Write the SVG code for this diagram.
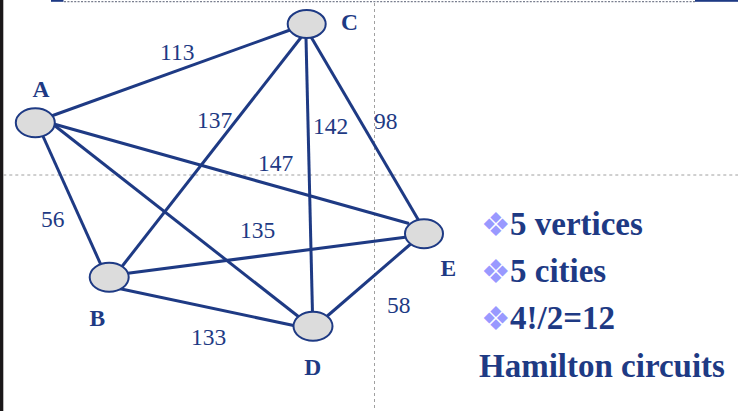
<svg xmlns="http://www.w3.org/2000/svg" width="738" height="411" viewBox="0 0 738 411">
<style>
.edge{stroke:#1E3A84;stroke-width:3;fill:none;stroke-linecap:butt}
.node{fill:#DCDCDC;stroke:#1E3A84;stroke-width:2}
.w{font-family:"Liberation Serif","Times New Roman",serif;font-size:23.5px;fill:#1E3A84}
.lbl{font-family:"Liberation Serif","Times New Roman",serif;font-size:23.5px;font-weight:bold;fill:#1E3A84}
.txt{font-family:"Liberation Serif","Times New Roman",serif;font-size:33px;font-weight:bold;fill:#1E3A84}
.bul{font-family:"DejaVu Sans",sans-serif;font-size:33px;fill:#9999FF}
.guide{stroke:#A0A0A0;stroke-width:1;stroke-dasharray:3,3;fill:none}
</style>
<rect x="0" y="0" width="738" height="411" fill="#FFFFFF"/>
<g id="frame">
<rect x="0" y="0" width="3.3" height="411" fill="#1B1819"/>
<rect x="51" y="0" width="12.5" height="1.8" fill="#1E3A84"/>
<rect x="695" y="0" width="43" height="1.8" fill="#1E3A84"/>
<line x1="64" y1="1.6" x2="695" y2="1.6" stroke="#7A7F8F" stroke-width="1.4" stroke-dasharray="2,1.4"/>
<line class="guide" x1="374.5" y1="3" x2="374.5" y2="411"/>
<line class="guide" x1="3.3" y1="175" x2="738" y2="175"/>
</g>
<g id="connectors">
<line class="edge" x1="50" y1="116.5" x2="290" y2="30"/>
<line class="edge" x1="52" y1="123.5" x2="409" y2="223.5"/>
<line class="edge" x1="52" y1="123.5" x2="299" y2="317"/>
<line class="edge" x1="42" y1="134" x2="101" y2="265"/>
<line class="edge" x1="120" y1="269" x2="301" y2="37.5"/>
<line class="edge" x1="306" y1="38" x2="312.5" y2="314"/>
<line class="edge" x1="310.5" y1="36" x2="419" y2="221"/>
<line class="edge" x1="126" y1="273.5" x2="407" y2="237"/>
<line class="edge" x1="119" y1="288.5" x2="296" y2="326"/>
<line class="edge" x1="325" y1="318" x2="413" y2="242"/>
</g>
<g id="weights">
<text class="w" x="160" y="60">113</text>
<text class="w" x="197" y="128">137</text>
<text class="w" x="313" y="134">142</text>
<text class="w" x="374" y="129">98</text>
<text class="w" x="258" y="171">147</text>
<text class="w" x="240" y="238">135</text>
<text class="w" x="41" y="227">56</text>
<text class="w" x="191" y="345">133</text>
<text class="w" x="387" y="313">58</text>
</g>
<g id="node-A">
<ellipse class="node" cx="35.3" cy="122.8" rx="19.5" ry="14.5"/>
<text class="lbl" x="32.5" y="97">A</text>
</g>
<g id="node-B">
<ellipse class="node" cx="109.2" cy="277.2" rx="19.5" ry="14.5"/>
<text class="lbl" x="89.5" y="326">B</text>
</g>
<g id="node-C">
<ellipse class="node" cx="306.7" cy="24" rx="19" ry="14"/>
<text class="lbl" x="341" y="30">C</text>
</g>
<g id="node-D">
<ellipse class="node" cx="313" cy="326.2" rx="19.5" ry="14.5"/>
<text class="lbl" x="304.3" y="375">D</text>
</g>
<g id="node-E">
<ellipse class="node" cx="424" cy="233.7" rx="19" ry="14.5"/>
<text class="lbl" x="440.5" y="276">E</text>
</g>
<g id="notes">
<text class="bul" x="481" y="236">❖</text>
<text class="txt" x="510" y="235">5 vertices</text>
<text class="bul" x="481" y="283">❖</text>
<text class="txt" x="510" y="282">5 cities</text>
<text class="bul" x="481" y="330">❖</text>
<text class="txt" x="510" y="329">4!/2=12</text>
<text class="txt" x="479" y="377">Hamilton circuits</text>
</g>
</svg>
